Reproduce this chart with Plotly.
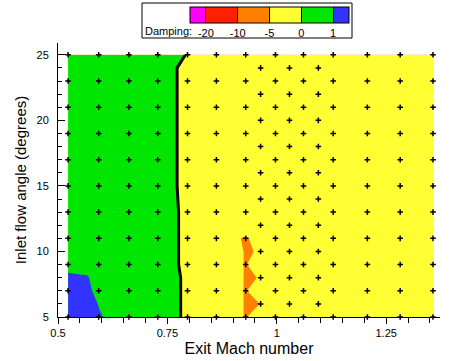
import numpy as np
import plotly.graph_objects as go

# ---------------- data ----------------
# contour grid (Exit Mach number columns, inlet flow angle rows)
mach_grid = [0.523, 0.568, 0.593, 0.662, 0.728, 0.796, 0.862, 0.929, 0.963, 0.997, 1.357]
angle_grid = [5, 6, 7, 8, 9, 10, 11, 12, 13, 15, 17, 19, 21, 23, 24, 25]

# damping values (rows follow angle_grid)
damping = [
    [1.4, 1.3, 1.08, 0.5, 0.5, -0.75, -2.5, -5.2, -3.0,   -2.5, -2.5],  # 5
    [1.4, 1.3, 0.97, 0.5, 0.5, -0.75, -2.5, -5.2, -4.985, -2.5, -2.5],  # 6
    [1.4, 1.3, 0.55, 0.5, 0.5, -0.75, -2.5, -5.2, -3.0,   -2.5, -2.5],  # 7
    [1.3, 1.1, 0.27, 0.5, 0.5, -0.75, -2.5, -5.2, -4.93,  -2.5, -2.5],  # 8
    [0.5, 0.5, 0.5,  0.5, 0.5, -1.07, -2.5, -5.2, -3.0,   -2.5, -2.5],  # 9
    [0.5, 0.5, 0.5,  0.5, 0.5, -1.07, -2.5, -5.2, -4.825, -2.5, -2.5],  # 10
    [0.5, 0.5, 0.5,  0.5, 0.5, -1.07, -2.5, -5.5, -3.0,   -2.5, -2.5],  # 11
    [0.5, 0.5, 0.5,  0.5, 0.5, -1.07, -2.5, -2.5, -2.5,   -2.5, -2.5],  # 12
    [0.5, 0.5, 0.5,  0.5, 0.5, -1.07, -2.5, -2.5, -2.5,   -2.5, -2.5],  # 13
    [0.5, 0.5, 0.5,  0.5, 0.5, -1.35, -2.5, -2.5, -2.5,   -2.5, -2.5],  # 15
    [0.5, 0.5, 0.5,  0.5, 0.5, -1.35, -2.5, -2.5, -2.5,   -2.5, -2.5],  # 17
    [0.5, 0.5, 0.5,  0.5, 0.5, -1.35, -2.5, -2.5, -2.5,   -2.5, -2.5],  # 19
    [0.5, 0.5, 0.5,  0.5, 0.5, -1.35, -2.5, -2.5, -2.5,   -2.5, -2.5],  # 21
    [0.5, 0.5, 0.5,  0.5, 0.5, -1.35, -2.5, -2.5, -2.5,   -2.5, -2.5],  # 23
    [0.5, 0.5, 0.5,  0.5, 0.5, -1.35, -2.5, -2.5, -2.5,   -2.5, -2.5],  # 24
    [0.5, 0.5, 0.5,  0.5, 0.5, -0.19, -2.5, -2.5, -2.5,   -2.5, -2.5],  # 25
]

# damping class boundaries and colours
damping_levels = [-20, -10, -5, 0, 1]
level_labels = ["-20", "-10", "-5", "0", "1"]
band_colors = ["#ff00ff", "#ff2000", "#ff8000", "#ffff33", "#00e600", "#3333ff"]

# computed points (markers)
odd_angles = [5, 7, 9, 11, 13, 15, 17, 19, 21, 23, 25]
odd_machs = [0.523, 0.593, 0.662, 0.728, 0.796, 0.862, 0.929, 0.997,
             1.061, 1.129, 1.207, 1.282, 1.357]
even_angles = [6, 8, 10, 12, 14, 16, 18, 20, 22, 24]
even_machs = [0.963, 1.029, 1.095]

# axis ticks
x_tickvals = [0.5, 0.75, 1, 1.25]
x_ticktext = ["0.5", "0.75", "1", "1.25"]
y_tickvals = [5, 10, 15, 20, 25]

# ---------------- figure ----------------
# map damping onto evenly spaced class index (boundaries -> 1..5)
z_damp = np.array(damping, dtype=float)
idx_src = [-30] + damping_levels + [2]
z_idx = np.interp(z_damp, idx_src, list(range(len(idx_src))))

edges = [0, 0.1, 0.3, 0.5, 0.7, 0.9, 1.0]


def step_scale(colors):
    cs = []
    for i, c in enumerate(colors):
        cs.append([edges[i], c])
        cs.append([edges[i + 1], c])
    return cs


full_scale = step_scale(band_colors)
# the band below the lowest boundary never occurs in the data: keep it clear
plot_scale = step_scale(["rgba(255,255,255,0)"] + band_colors[1:])

FONT = "Liberation Sans, Arial, Helvetica, sans-serif"
L, R, T, B = 58, 440, 43, 317
W, H = R - L, B - T

fig = go.Figure()
# filled damping bands
fig.add_trace(go.Contour(
    x=mach_grid, y=angle_grid, z=z_idx,
    autocontour=False, zmin=0.5, zmax=5.5,
    contours=dict(start=1, end=5, size=1, coloring="fill", showlines=False),
    line=dict(width=0, smoothing=0),
    colorscale=plot_scale, showscale=False,
    hoverinfo="skip",
))
# zero-damping line
fig.add_trace(go.Contour(
    x=mach_grid, y=angle_grid, z=z_idx,
    autocontour=False,
    contours=dict(start=4, end=4, size=1, coloring="none", showlines=True),
    line=dict(color="black", width=3, smoothing=0),
    showscale=False,
    hoverinfo="skip",
))

px, py = [], []
for a in odd_angles:
    for m in odd_machs:
        px.append(m)
        py.append(a)
for a in even_angles:
    for m in even_machs:
        px.append(m)
        py.append(a)
fig.add_trace(go.Scatter(
    x=px, y=py, mode="markers",
    marker=dict(symbol="cross-thin", size=4, color="black",
                line=dict(color="black", width=1.5)),
    cliponaxis=False, showlegend=False, hoverinfo="skip",
))

# colour key (damping classes)
fig.add_trace(go.Scatter(
    x=[None], y=[None], mode="markers", showlegend=False, hoverinfo="skip",
    marker=dict(
        color=[1], cmin=0.5, cmax=5.5, colorscale=full_scale, showscale=True,
        colorbar=dict(
            orientation="h",
            xref="paper", yref="paper",
            x=(190 - L) / W, xanchor="left",
            y=(B - 7) / H, yanchor="top",
            lenmode="fraction", len=159 / W,
            thickness=16,
            xpad=0, ypad=0,
            outlinewidth=1, outlinecolor="black",
            tickvals=[1, 2, 3, 4, 5], ticktext=level_labels,
            ticks="inside", ticklen=16, tickcolor="black", tickwidth=1,
            tickfont=dict(family=FONT, size=11, color="black"),
        ),
    ),
))

# legend frame and label
fig.add_shape(type="rect", xref="paper", yref="paper",
              x0=(142 - L) / W, x1=(352 - L) / W,
              y0=(B - 38) / H, y1=(B - 3) / H,
              line=dict(color="black", width=1), fillcolor="rgba(0,0,0,0)")
fig.add_annotation(text="Damping:", xref="paper", yref="paper",
                   x=(143 - L) / W, y=(B - 31) / H, xanchor="left", yanchor="middle",
                   showarrow=False, font=dict(family=FONT, size=11, color="black"))

fig.update_layout(
    width=464, height=361,
    margin=dict(l=L, r=464 - R, t=T, b=361 - B, autoexpand=False),
    paper_bgcolor="white", plot_bgcolor="white",
    font=dict(family=FONT, color="black"),
    showlegend=False,
    xaxis=dict(
        range=[0.5, 1.373], showgrid=False, zeroline=False,
        showline=True, linecolor="black", linewidth=1,
        tickvals=x_tickvals, ticktext=x_ticktext,
        ticks="outside", ticklen=6, tickcolor="black",
        minor=dict(dtick=0.05, tick0=0.5, ticks="outside", ticklen=5, tickcolor="black"),
        tickfont=dict(family=FONT, size=11),
        title=dict(text="Exit Mach number", font=dict(family=FONT, size=16), standoff=4),
    ),
    yaxis=dict(
        range=[5, 25.9], showgrid=False, zeroline=False,
        showline=True, linecolor="black", linewidth=1,
        tickvals=y_tickvals,
        ticks="inside", ticklen=7, tickcolor="black",
        minor=dict(dtick=1, tick0=5, ticks="inside", ticklen=4, tickcolor="black"),
        tickfont=dict(family=FONT, size=11),
        ticklabelstandoff=6,
        title=dict(text="Inlet flow angle (degrees)", font=dict(family=FONT, size=15), standoff=6),
    ),
)

fig.write_html("out.html", config={"displayModeBar": False},
               post_script="document.body.style.margin='0px';")
